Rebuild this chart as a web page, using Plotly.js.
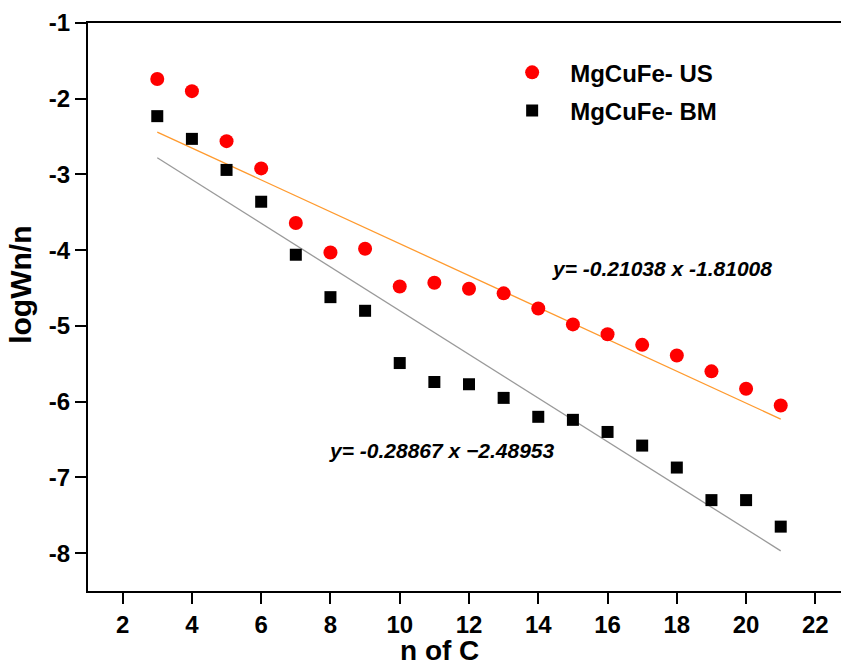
<!DOCTYPE html>
<html>
<head>
<meta charset="utf-8">
<script src="https://cdn.plot.ly/plotly-3.0.1.min.js"></script>
<style>
html,body{margin:0;padding:0;background:#fff;overflow:hidden;}
#chart{width:850px;height:667px;}
</style>
</head>
<body>
<div id="chart"></div>
<script>
// Carbon number
const nC = [3,4,5,6,7,8,9,10,11,12,13,14,15,16,17,18,19,20,21];
// MgCuFe- US (red circles)
const usY = [-1.74,-1.90,-2.56,-2.92,-3.64,-4.03,-3.98,-4.48,-4.43,-4.51,-4.57,-4.77,-4.98,-5.11,-5.25,-5.39,-5.60,-5.83,-6.05];
// MgCuFe- BM (black squares)
const bmY = [-2.23,-2.53,-2.94,-3.36,-4.06,-4.62,-4.80,-5.49,-5.74,-5.77,-5.95,-6.20,-6.24,-6.40,-6.58,-6.87,-7.30,-7.30,-7.65];
// fitted lines (end points as drawn)
const fitX = [3,21];
const usFitY = [-2.44,-6.23];
const bmFitY = [-2.78,-7.97];
const usEq = "y= -0.21038 x -1.81008";
const bmEq = "y= -0.28867 x \u22122.48953";
const seriesNames = ["MgCuFe- US","MgCuFe- BM"];
const xTitle = "n of C";
const yTitle = "logWn/n";
const xTicks = [2,4,6,8,10,12,14,16,18,20,22];
const yTicks = [-1,-2,-3,-4,-5,-6,-7,-8];

const FONT = "Liberation Sans, Arial, sans-serif";

const traces = [
  {x: fitX, y: usFitY, mode: 'lines', line: {color: '#ff9a2e', width: 1.3}, showlegend: false, hoverinfo: 'skip'},
  {x: fitX, y: bmFitY, mode: 'lines', line: {color: '#9a9a9a', width: 1.3}, showlegend: false, hoverinfo: 'skip'},
  {x: nC, y: usY, mode: 'markers', name: seriesNames[0], legendgroup: 'a',
   marker: {symbol: 'circle', size: 14, color: '#ff0000'}},
  {x: nC, y: bmY, mode: 'markers', name: seriesNames[1], legendgroup: 'b',
   marker: {symbol: 'square', size: 12, color: '#000000'}}
];

const layout = {
  width: 850, height: 667,
  margin: {l: 88, r: 0, t: 23, b: 76},
  paper_bgcolor: '#fff', plot_bgcolor: '#fff',
  font: {family: FONT, color: '#000'},
  showlegend: true,
  legend: {x: 0.533, y: 0.952, xanchor: 'left', yanchor: 'top',
           font: {family: FONT, size: 24, color: '#000', weight: 'bold'},
           bgcolor: 'rgba(0,0,0,0)', itemwidth: 66, tracegroupgap: 4},
  xaxis: {
    range: [1, 23], tickvals: xTicks, ticktext: xTicks.map(String),
    showgrid: false, zeroline: false, showline: true, mirror: true,
    linecolor: '#000', linewidth: 2, ticks: 'outside', ticklen: 11, tickwidth: 2, tickcolor: '#000',
    tickfont: {family: FONT, size: 24, weight: 'bold'}
  },
  yaxis: {
    range: [-8.5, -1], tickvals: yTicks, ticktext: yTicks.map(String),
    showgrid: false, zeroline: false, showline: true, mirror: true,
    linecolor: '#000', linewidth: 2, ticks: 'outside', ticklen: 11, tickwidth: 2, tickcolor: '#000',
    tickfont: {family: FONT, size: 24, weight: 'bold'}
  },
  annotations: [
    {xref: 'paper', yref: 'paper', x: 0.461, y: -0.1047, text: '<b>' + xTitle + '</b>', showarrow: false,
     xanchor: 'center', yanchor: 'middle', font: {family: FONT, size: 28, color: '#000'}},
    {xref: 'paper', yref: 'paper', x: -0.088, y: 0.539, text: '<b>' + yTitle + '</b>', showarrow: false,
     textangle: -90, xanchor: 'center', yanchor: 'middle', font: {family: FONT, size: 30, color: '#000'}},
    {xref: 'x', yref: 'y', x: 17.57, y: -4.24, text: '<b><i>' + usEq + '</i></b>', showarrow: false,
     font: {family: FONT, size: 21, color: '#000'}},
    {xref: 'x', yref: 'y', x: 11.22, y: -6.65, text: '<b><i>' + bmEq + '</i></b>', showarrow: false,
     font: {family: FONT, size: 21, color: '#000'}}
  ]
};

Plotly.newPlot('chart', traces, layout, {displayModeBar: false, staticPlot: true});
</script>
</body>
</html>
